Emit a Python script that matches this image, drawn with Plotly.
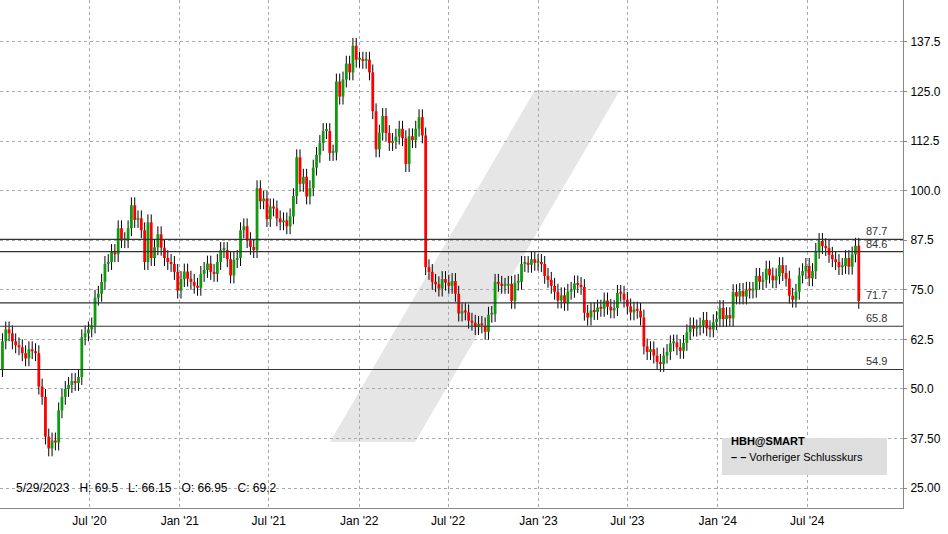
import plotly.graph_objects as go
import pandas as pd

# weekly closes, Jan 2020 .. Oct 2024
closes = [
    62, 65, 64, 62, 61, 60.5, 59, 57.7, 60, 59.5,
    59, 50.6, 48, 38, 35, 37, 36.5, 44.6, 48, 50,
    51, 52, 51.5, 53, 63, 64, 65, 66, 73, 74,
    77, 81.5, 82, 84.5, 84, 90.5, 87.5, 87.5, 90.5, 96.3,
    92.6, 93, 90, 82, 92, 83, 85.7, 89, 85.6, 83,
    82, 81.5, 79.5, 74.8, 77.7, 79.6, 77.8, 77, 76, 75.5,
    79, 80, 81.6, 79.5, 79, 82, 85, 85, 82.7, 78.6,
    82.5, 83, 90, 91, 87.5, 85.8, 85, 100.6,
    97.3, 98, 92.8, 96, 95.5, 93, 92, 92.5, 91, 93.5,
    98.6, 108.4, 101.7, 103.5, 98.5, 100.6, 105.8, 109, 112, 115,
    115, 109.5, 109.6, 127.5, 123.7, 128, 132, 129.8, 136.5, 133,
    133, 132.7, 133, 129.8, 120, 110.4, 114.6, 118.8, 114.5, 112,
    112.5, 113.6, 115.6, 113.2, 106.7, 113.7, 112.7, 115.6, 118.5, 113.9,
    80.7, 79.5, 77, 76.4, 75.3, 77.7, 76.8, 76, 77.2, 74,
    69, 69.6, 69.3, 67.2, 66.7, 65.6, 66.4, 66, 64.4, 68.7, 68.9,
    77, 76.5, 76, 76, 76.5, 72.2, 76.8, 77, 81.5, 81.5,
    81.3, 82.7, 81.8, 82, 81.5, 78.5, 77.5, 76, 74.5, 72.3,
    73.6, 71.7, 74.5, 75, 76.6, 76.2, 75.7, 69.2, 68, 69.8,
    69.4, 70.5, 70.2, 72.3, 70.7, 69.8, 70.4, 74.2, 74, 72.5,
    70.8, 69.3, 70, 69.7, 68, 60.7, 59.3, 60, 58.4, 56.8,
    56.3, 58.4, 59.3, 61.5, 61.7, 60.5, 59.6, 61.6, 64.3, 66,
    65.2, 65.5, 66, 67.4, 65.3, 65, 66.8, 67.6, 70.4, 67.6,
    68.6, 67.8, 74.4, 73.3, 74.7, 73.3, 75, 74.8, 75, 78.5,
    77, 77.5, 80.3, 78.6, 77.4, 78.4, 81.2, 79.2, 77.8, 73.5,
    72.5, 74.5, 78.6, 79.7, 81, 77.9, 79.7, 84.8, 87.3, 86,
    85.5, 83.8, 82.7, 82, 80.7, 81, 83, 80.8, 83.9, 86.1,
    72.2,
]
first_open = 55
level_vals = [87.7, 84.6, 71.7, 65.8, 54.9]
ytick_vals = [25, 37.5, 50, 62.5, 75, 87.5, 100, 112.5, 125, 137.5]
ytick_text = ["25.00", "37.50", "50.0", "62.5", "75.0", "87.5", "100.0", "112.5", "125.0", "137.5"]
xtick_vals = ["2020-07-01", "2021-01-01", "2021-07-01", "2022-01-01", "2022-07-01",
              "2023-01-01", "2023-07-01", "2024-01-01", "2024-07-01"]
xtick_text = ["Jul '20", "Jan '21", "Jul '21", "Jan '22", "Jul '22",
              "Jan '23", "Jul '23", "Jan '24", "Jul '24"]

dates = pd.date_range("2020-01-06", "2024-10-14", periods=len(closes))
opens = [first_open] + closes[:-1]
highs = [max(o, c) + 2 for o, c in zip(opens, closes)]
lows = [min(o, c) - 2 for o, c in zip(opens, closes)]

fig = go.Figure()

# watermark slash
W, H = 903, 508
def px(x, y):
    return f"{x / W},{(H - y) / H}"
fig.add_shape(type="path", xref="paper", yref="paper", layer="below", line_width=0,
              fillcolor="#e6e6e6",
              path=f"M{px(330, 442)} L{px(415, 442)} L{px(620, 90)} L{px(535, 90)} Z")

# wicks
wx, wy = [], []
for d, h, l in zip(dates, highs, lows):
    wx += [d, d, None]
    wy += [l, h, None]
fig.add_trace(go.Scatter(x=wx, y=wy, mode="lines", line=dict(color="black", width=1),
                         hoverinfo="skip", showlegend=False))

# bodies as thick segments, green up / red down
for is_up, col in [(True, "#0f9a0f"), (False, "#ff0000")]:
    bx, by = [], []
    for d, o, c in zip(dates, opens, closes):
        if (c >= o) == is_up:
            lo, hi = min(o, c), max(o, c)
            if hi - lo < 0.5:
                hi = lo + 0.5
            bx += [d, d, None]
            by += [lo, hi, None]
    fig.add_trace(go.Scatter(x=bx, y=by, mode="lines", line=dict(color=col, width=2.8),
                             hoverinfo="skip", showlegend=False))

for v in level_vals:
    fig.add_hline(y=v, line=dict(color="#333333", width=1.2))
    fig.add_annotation(x=0.985, xref="paper", y=v, yref="y", text=f"{v}", showarrow=False,
                       xanchor="right", yanchor="bottom", font=dict(size=11, color="#333333"))

# legend box
fig.add_shape(type="rect", xref="paper", yref="paper", layer="above", line_width=0,
              fillcolor="rgba(220,220,220,0.95)",
              x0=722 / W, x1=887 / W, y0=(H - 475) / H, y1=(H - 438) / H)
fig.add_annotation(xref="paper", yref="paper", x=729 / W, y=(H - 449) / H, text="<b>HBH@SMART</b>",
                   showarrow=False, xanchor="left", font=dict(size=11, color="black"))
fig.add_annotation(xref="paper", yref="paper", x=729 / W, y=(H - 465) / H,
                   text="<b>– –</b> Vorheriger Schlusskurs", showarrow=False, xanchor="left",
                   font=dict(size=11, color="black"))

fig.add_annotation(xref="paper", yref="paper", x=14 / W, y=(H - 497) / H,
                   text="5/29/2023   H: 69.5   L: 66.15   O: 66.95   C: 69.2",
                   showarrow=False, xanchor="left", font=dict(size=12, color="black"))

fig.update_layout(
    width=948, height=534, margin=dict(l=0, r=45, t=0, b=26),
    plot_bgcolor="white", paper_bgcolor="white",
    font=dict(family="Liberation Sans, Arial", size=11, color="black"),
    xaxis=dict(range=["2020-01-01", "2025-01-12"], tickvals=xtick_vals, ticktext=xtick_text,
               showgrid=True, gridcolor="#aaaaaa", griddash="dot", ticks="", ticklabelstandoff=2,
               showline=True, linecolor="#888888", mirror=True, tickfont=dict(size=12)),
    yaxis=dict(range=[19.98, 148.05], side="right", tickvals=ytick_vals, ticktext=ytick_text,
               showgrid=True, gridcolor="#aaaaaa", griddash="dot", ticks="outside",
               ticklen=3, tickcolor="#888888", ticklabelstandoff=1, tickfont=dict(size=12),
               showline=True, linecolor="#888888", mirror=True),
)

fig.write_html("out.html", config={"displayModeBar": False},
               post_script="document.body.style.margin='0';")
